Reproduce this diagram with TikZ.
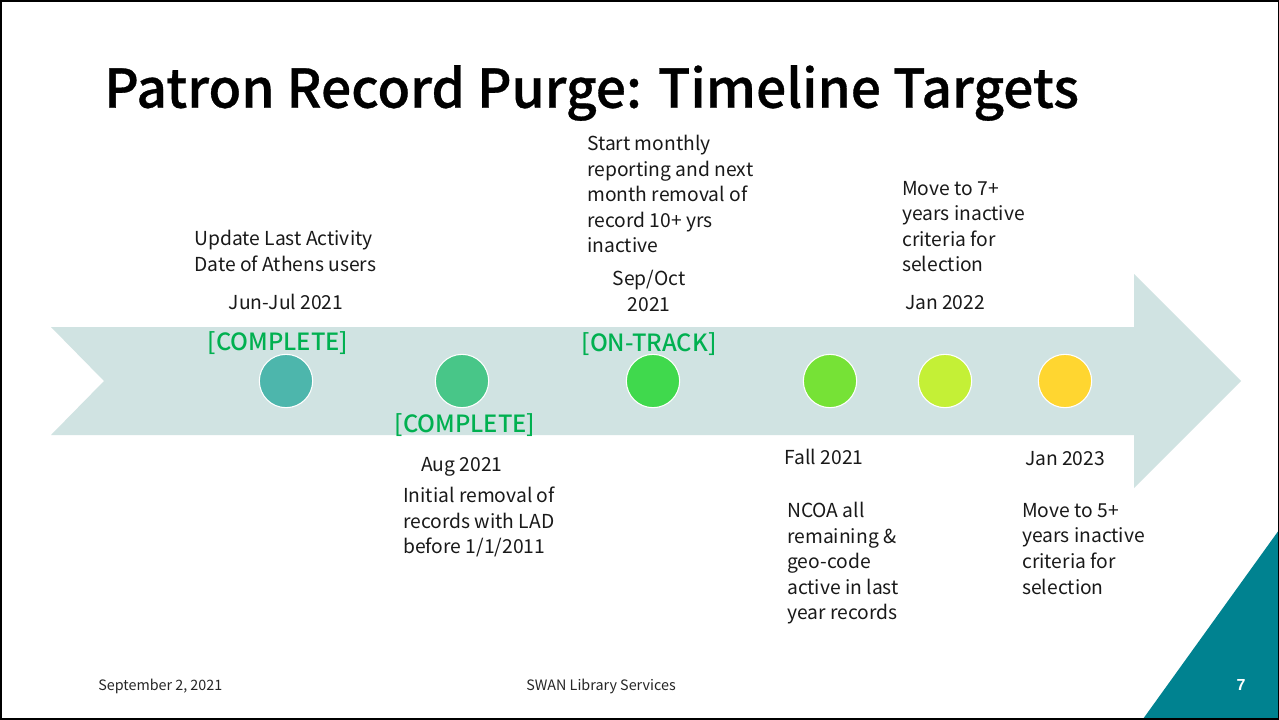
\documentclass[tikz,border=0pt]{standalone}
\usepackage{fontspec}
\setmainfont{Noto Sans CJK SC}
\newfontfamily\medfont{Noto Sans CJK SC Medium}
\newfontfamily\titlefont[FakeBold=0.6]{Noto Sans CJK SC Medium}
\newfontfamily\pagefont{Liberation Sans}
\usetikzlibrary{calc}
\definecolor{arrowc}{HTML}{D0E3E2}
\definecolor{teal2}{HTML}{008290}
\definecolor{stat}{HTML}{00B050}
\tikzset{
 lab/.style={font=\fontsize{14.45}{19.15}\selectfont,anchor=north west,align=left,inner sep=0pt,text=black!90},
 cen/.style={font=\fontsize{14.45}{19.15}\selectfont,anchor=center,align=center,inner sep=0pt,text=black!90},
 status/.style={font=\medfont\fontsize{17.8}{22}\selectfont,text=stat,inner sep=0pt,anchor=center},
 dot/.style={circle,draw=white,line width=0.8pt,minimum size=40pt,inner sep=0pt},
 foot/.style={font=\fontsize{10.75}{12}\selectfont,inner sep=0pt,text=black!85},
}
\begin{document}
\begin{tikzpicture}[x=0.75pt,y=-0.75pt]
\useasboundingbox (0,0) rectangle (1279,719);
\fill[white] (0,0) rectangle (1279,719);
\fill[arrowc] (51,327) -- (1134,327) -- (1134,274) -- (1241,381) -- (1134,488) -- (1134,435) -- (51,435) -- (104,381) -- cycle;
\fill[teal2] (1279,530) -- (1279,719) -- (1143,719) -- cycle;
\draw[black,line width=1.5pt] (0.5,0.5) rectangle (1278.5,718.5);
\node[anchor=west,inner sep=0pt,font=\titlefont\fontsize{40}{48}\selectfont] (title) at (104,93) {Patron Record Purge: Timeline Targets};
\node[dot,fill={rgb,255:red,77;green,182;blue,172}] (d1) at (286,381) {};
\node[dot,fill={rgb,255:red,72;green,198;blue,136}] (d2) at (462,381) {};
\node[dot,fill={rgb,255:red,64;green,217;blue,77}] (d3) at (653,381) {};
\node[dot,fill={rgb,255:red,118;green,226;blue,54}] (d4) at (830,381) {};
\node[dot,fill={rgb,255:red,196;green,240;blue,54}] (d5) at (945,381) {};
\node[dot,fill={rgb,255:red,255;green,214;blue,48}] (d6) at (1065,381) {};
\node[status] (s1) at (278,343) {[COMPLETE]};
\node[status] (s2) at (465,425) {[COMPLETE]};
\node[status] (s3) at (649,344) {[ON-TRACK]};
\node[lab] (t1) at (194,230) {Update Last Activity\\Date of Athens users};
\node[cen] (w1) at (286,302) {Jun-Jul 2021};
\node[cen] (w2) at (462,467) {Aug 2021};
\node[lab] (t2) at (403,487) {Initial removal of\\records with LAD\\before 1/1/2011};
\node[lab] (t3) at (587,135) {Start monthly\\reporting and next\\month removal of\\record 10+ yrs\\inactive};
\node[cen] (w3) at (649,291) {Sep/Oct\\2021};
\node[lab] (t5) at (902,181) {Move to 7+\\years inactive\\criteria for\\selection};
\node[cen] (w5) at (945,303) {Jan 2022};
\node[cen] (w4) at (824,457) {Fall 2021};
\node[lab] (t4) at (787,502) {NCOA all\\remaining \&\\geo-code\\active in last\\year records};
\node[cen] (w6) at (1065,459) {Jan 2023};
\node[lab] (t6) at (1022,503) {Move to 5+\\years inactive\\criteria for\\selection};
\node[foot,anchor=west] (f1) at (98,686) {September 2, 2021};
\node[foot,anchor=center] (f2) at (601,686) {SWAN Library Services};
\node[anchor=center,inner sep=0pt,text=white,font=\pagefont\fontsize{12}{14}\selectfont\bfseries] (pg) at (1241,685) {7};
\end{tikzpicture}
\end{document}
